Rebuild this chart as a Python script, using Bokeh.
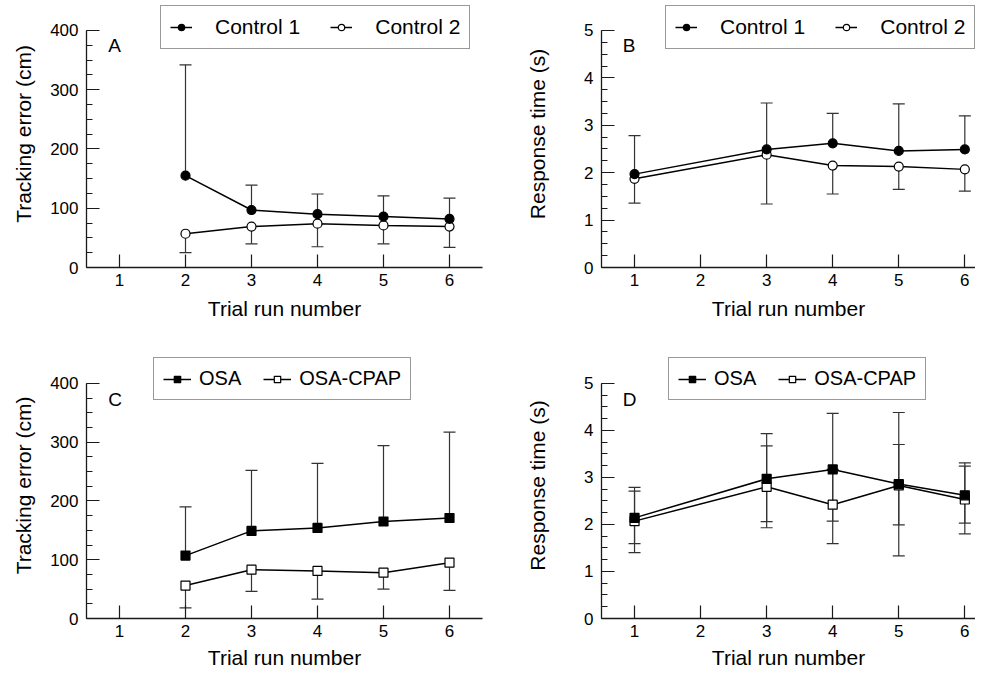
from bokeh.plotting import figure
from bokeh.models import (Range1d, SingleIntervalTicker, FixedTicker, Whisker, TeeHead,
                          ColumnDataSource, Legend, LegendItem, Label)
from bokeh.layouts import column, row
from bokeh.embed import file_html
from bokeh.resources import INLINE

# ---------------- data ----------------
trial_ticks = [1, 2, 3, 4, 5, 6]

# Panel A: tracking error (cm), controls
trials_A = [2, 3, 4, 5, 6]
control1_A = [155, 97, 90, 86, 82]
control1_A_upper = [342, 139, 124, 121, 117]
control2_A = [57, 69, 74, 71, 69]
control2_A_lower = [25, 40, 35, 40, 34]

# Panel B: response time (s), controls
trials_B = [1, 3, 4, 5, 6]
control1_B = [1.97, 2.49, 2.62, 2.46, 2.49]
control1_B_upper = [2.78, 3.47, 3.25, 3.45, 3.20]
control2_B = [1.87, 2.38, 2.15, 2.13, 2.07]
control2_B_lower = [1.36, 1.34, 1.55, 1.65, 1.61]

# Panel C: tracking error (cm), OSA groups
trials_C = [2, 3, 4, 5, 6]
osa_C = [107, 149, 154, 165, 171]
osa_C_upper = [190, 252, 264, 294, 317]
cpap_C = [56, 83, 81, 78, 95]
cpap_C_lower = [18, 46, 33, 50, 48]

# Panel D: response time (s), OSA groups
trials_D = [1, 3, 4, 5, 6]
osa_D = [2.14, 2.97, 3.17, 2.86, 2.62]
osa_D_upper = [2.79, 3.93, 4.36, 4.38, 3.31]
osa_D_lower = [1.59, 2.06, 2.07, 1.33, 2.03]
cpap_D = [2.07, 2.80, 2.42, 2.83, 2.53]
cpap_D_upper = [2.71, 3.67, 3.17, 3.70, 3.24]
cpap_D_lower = [1.40, 1.93, 1.59, 1.99, 1.80]

FONT = "Liberation Sans"
INK = "#1a1a1a"


def make_fig(width, height, x_end, y_end, b_left, b_right, b_bottom,
             ymax, yint, ylabel, ylabel_standoff, xlabel_standoff):
    p = figure(width=width, height=height,
               x_range=Range1d(0.5, x_end), y_range=Range1d(0, y_end),
               min_border_left=b_left, min_border_right=b_right,
               min_border_top=0, min_border_bottom=b_bottom,
               output_backend="svg", toolbar_location=None,
               outline_line_color=None,
               x_axis_label="Trial run number", y_axis_label=ylabel)
    p.xgrid.visible = False
    p.ygrid.visible = False
    xa = p.xaxis[0]
    ya = p.yaxis[0]
    xa.ticker = FixedTicker(ticks=trial_ticks)
    xa.bounds = (0.5, x_end)
    ya.ticker = SingleIntervalTicker(interval=yint, num_minor_ticks=4)
    ya.bounds = (0, ymax)
    for ax in (xa, ya):
        ax.axis_line_color = INK
        ax.axis_line_width = 1.3
        ax.major_tick_line_color = INK
        ax.major_tick_line_width = 1.2
        ax.minor_tick_line_color = INK
        ax.minor_tick_line_width = 1.2
        ax.major_tick_in = 13
        ax.major_tick_out = 0
        ax.minor_tick_in = 6
        ax.minor_tick_out = 0
        ax.major_label_text_font = FONT
        ax.major_label_text_font_size = "17px"
        ax.major_label_text_color = "black"
        ax.axis_label_text_font = FONT
        ax.axis_label_text_font_size = "21px"
        ax.axis_label_text_font_style = "normal"
        ax.axis_label_text_color = "black"
    xa.minor_tick_line_color = None
    xa.major_label_standoff = 6
    xa.axis_label_standoff = xlabel_standoff
    ya.major_label_standoff = 8
    ya.axis_label_standoff = ylabel_standoff
    return p


def add_series(p, x, y, marker, fill, upper=None, lower=None):
    src = ColumnDataSource(dict(x=x, y=y,
                                upper=upper if upper is not None else y,
                                lower=lower if lower is not None else y))
    w = Whisker(base="x", upper="upper", lower="lower", source=src,
                dimension="height", level="underlay",
                line_color="#333333", line_width=1.2,
                upper_head=TeeHead(size=12, line_color="#333333", line_width=1.2) if upper is not None else None,
                lower_head=TeeHead(size=12, line_color="#333333", line_width=1.2) if lower is not None else None)
    p.add_layout(w)
    ln = p.line("x", "y", source=src, line_color="black", line_width=1.5)
    sc = p.scatter("x", "y", source=src, marker=marker, size=9,
                   fill_color=fill, line_color="black", line_width=1.2)
    return ln, sc


def add_legend(p, items, loc, glyph_width, standoff, spacing, font_size):
    lg = Legend(items=items, location=loc, orientation="horizontal",
                padding=9, margin=0, spacing=spacing,
                label_standoff=standoff, glyph_width=glyph_width,
                glyph_height=16, label_height=16,
                label_text_font=FONT, label_text_font_size=font_size,
                label_text_color="black",
                border_line_color="#333333", border_line_width=1.2,
                background_fill_color="white", background_fill_alpha=1.0)
    p.add_layout(lg)


def add_letter(p, text, x, y):
    p.add_layout(Label(x=x, y=y, text=text, text_font=FONT,
                       text_font_size="19px", text_color="black",
                       text_baseline="alphabetic", text_align="left"))


W1, W2 = 495, 480
H1, H2 = 352, 319
XEND_R = 0.5 + 374 / 66.06

# ---- Panel A ----
pA = make_fig(W1, H1, 6.5, 450.6, 86, 13, 85, 400, 100, "Tracking error (cm)", 12, 8)
l2, s2 = add_series(pA, trials_A, control2_A, "circle", "white", lower=control2_A_lower)
l1, s1 = add_series(pA, trials_A, control1_A, "circle", "black", upper=control1_A_upper)
add_legend(pA, [LegendItem(label="Control 1", renderers=[l1, s1]),
                LegendItem(label="Control 2", renderers=[l2, s2])],
           (74, 218), 22, 23, 30, "21px")
add_letter(pA, "A", 0.83, 375)

# ---- Panel B ----
pB = make_fig(W2, H1, XEND_R, 5.6325, 106, 0, 85, 5, 1, "Response time (s)", 32, 8)
l2, s2 = add_series(pB, trials_B, control2_B, "circle", "white", lower=control2_B_lower)
l1, s1 = add_series(pB, trials_B, control1_B, "circle", "black", upper=control1_B_upper)
add_legend(pB, [LegendItem(label="Control 1", renderers=[l1, s1]),
                LegendItem(label="Control 2", renderers=[l2, s2])],
           (64, 218), 22, 23, 30, "21px")
add_letter(pB, "B", 0.82, 4.69)

# ---- Panel C ----
pC = make_fig(W1, H2, 6.5, 452.5, 86, 13, 52, 400, 100, "Tracking error (cm)", 12, 6)
l2, s2 = add_series(pC, trials_C, cpap_C, "square", "white", lower=cpap_C_lower)
l1, s1 = add_series(pC, trials_C, osa_C, "square", "black", upper=osa_C_upper)
add_legend(pC, [LegendItem(label="OSA", renderers=[l1, s1]),
                LegendItem(label="OSA-CPAP", renderers=[l2, s2])],
           (67, 218), 28, 8, 22, "20px")
add_letter(pC, "C", 0.83, 373)

# ---- Panel D ----
pD = make_fig(W2, H2, XEND_R, 5.656, 106, 0, 52, 5, 1, "Response time (s)", 32, 6)
l2, s2 = add_series(pD, trials_D, cpap_D, "square", "white", upper=cpap_D_upper, lower=cpap_D_lower)
l1, s1 = add_series(pD, trials_D, osa_D, "square", "black", upper=osa_D_upper, lower=osa_D_lower)
add_legend(pD, [LegendItem(label="OSA", renderers=[l1, s1]),
                LegendItem(label="OSA-CPAP", renderers=[l2, s2])],
           (67, 218), 28, 8, 22, "20px")
add_letter(pD, "D", 0.82, 4.66)

layout = column(row(pA, pB), row(pC, pD))
open("out.html", "w").write(file_html(layout, INLINE))
